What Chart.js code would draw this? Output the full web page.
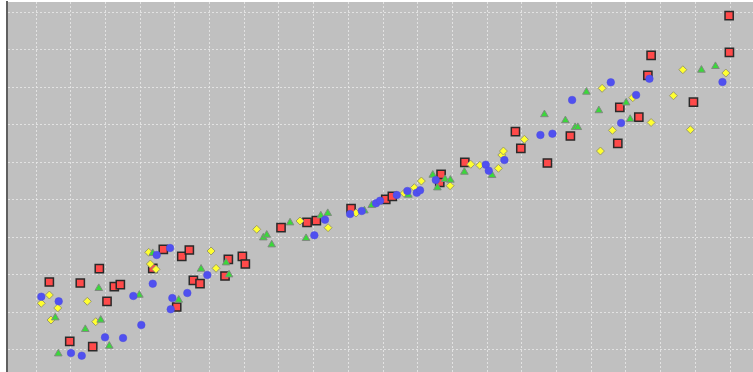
<!DOCTYPE html>
<html><head><meta charset="utf-8">
<script src="https://cdn.jsdelivr.net/npm/chart.js@4/dist/chart.umd.min.js"></script>
<style>html,body{margin:0;padding:0;background:#fff}#wrap{width:753px;height:372px}</style>
</head><body><div id="wrap"><canvas id="c"></canvas></div>
<script>
// Series values [x, y]
const blueX = [0.76,3.27,5.04,6.59,9.94,12.54,14.02,15.17,16.82,17.39,19.31,19.64,19.41,21.80,24.68,40.10,41.64,45.25,46.93,48.99,49.57,51.98,53.50,54.86,55.33,57.60,64.80,65.23,67.48,72.67,74.40,77.24,82.81,84.30,86.46,88.38,98.90];
const blueY = [14.08,12.85,-0.93,-1.65,3.25,3.07,14.27,6.53,17.55,25.20,27.07,13.73,10.72,15.07,19.87,30.45,34.61,36.13,36.93,38.99,39.68,41.20,42.27,41.81,42.45,45.20,49.28,47.68,50.53,57.20,57.55,66.53,71.25,60.40,67.87,72.21,71.33];

const greenX = [2.78,3.21,7.10,9.04,9.32,10.56,14.89,16.82,20.56,23.78,27.38,27.81,32.75,33.24,33.96,36.60,38.91,41.03,42.03,47.31,48.37,53.65,57.16,57.83,58.94,59.70,61.72,65.71,73.25,76.27,77.67,78.06,79.30,81.09,85.02,85.60,95.87,97.89];
const greenY = [8.48,-1.12,5.39,16.32,7.87,0.93,14.53,25.65,13.20,21.47,23.15,19.95,29.81,30.53,27.95,33.81,29.65,35.68,36.32,37.01,38.45,41.20,46.53,43.15,45.39,45.20,47.33,46.45,62.67,61.07,59.25,59.25,68.67,63.73,65.81,61.41,74.53,75.52];

const yellowX = [0.76,1.92,2.16,3.13,7.39,8.60,16.24,16.47,17.29,25.22,25.94,31.80,38.04,42.08,46.11,53.03,54.51,55.52,59.66,62.64,63.94,66.62,67.11,67.34,70.36,81.32,81.56,83.05,85.98,88.62,91.84,93.19,94.28,99.39];
const yellowY = [12.32,14.53,7.87,11.07,12.85,7.41,25.92,22.80,21.39,26.27,21.65,32.05,34.27,32.48,36.40,41.65,43.15,44.93,43.68,49.39,49.12,48.32,51.87,52.93,56.05,52.93,69.65,58.45,67.15,60.53,67.68,74.61,58.61,73.73];

const redX = [1.92,4.86,6.38,8.17,9.12,10.23,11.28,12.15,16.82,18.34,20.27,21.00,22.09,22.67,23.63,27.23,27.71,29.73,30.16,35.30,39.05,40.39,45.39,50.39,51.34,58.17,58.36,61.78,69.07,69.85,73.68,76.99,83.82,84.11,86.85,88.15,88.62,94.72,99.86,99.90];
const redY = [18.00,2.19,17.73,0.75,21.55,12.85,16.75,17.28,21.65,26.72,11.33,24.85,26.53,18.45,17.55,19.60,24.05,24.85,22.80,32.48,33.92,34.35,37.55,40.05,40.85,44.59,46.72,49.92,58.08,53.65,49.73,56.93,54.99,64.59,61.95,73.12,78.45,65.95,89.01,79.25];

// Axis ranges / gridline values
const xRange = [-4.18, 103.3];
const yRange = [-6.0, 92.67];
const xTicks = [0,5,10,15,20,25,30,35,40,45,50,55,60,65,70,75,80,85,90,95,100];
const yTicks = [0,10,20,30,40,50,60,70,80,90];

const pts = (xs, ys) => xs.map((x, i) => ({x, y: ys[i]}));

const bgPlugin = {
  id: 'bg',
  beforeDraw(chart) {
    const {ctx, chartArea: a} = chart;
    ctx.save();
    ctx.fillStyle = '#c0c0c0';
    ctx.fillRect(a.left, a.top, a.right - a.left, a.bottom - a.top);
    ctx.restore();
  }
};

const gridOpts = {color: 'rgba(232,232,232,0.85)', lineWidth: 1, drawTicks: false};

new Chart(document.getElementById('c'), {
  type: 'scatter',
  data: {
    datasets: [
      {label: 'A', data: pts(blueX, blueY), pointStyle: 'circle', pointRadius: 3.8, backgroundColor: '#5050f0', borderColor: '#4a4ade', borderWidth: 0.5},
      {label: 'B', data: pts(greenX, greenY), pointStyle: 'triangle', pointRadius: 4.4, backgroundColor: '#3ad83a', borderColor: '#808a80', borderWidth: 1},
      {label: 'C', data: pts(yellowX, yellowY), pointStyle: 'rectRot', pointRadius: 4, backgroundColor: '#ffff30', borderColor: '#9a9a70', borderWidth: 1},
      {label: 'D', data: pts(redX, redY), pointStyle: 'rect', pointRadius: 5.8, backgroundColor: '#ff4a4a', borderColor: '#2a2a2a', borderWidth: 1.5}
    ]
  },
  options: {
    responsive: true,
    maintainAspectRatio: false,
    animation: false,
    events: [],
    layout: {autoPadding: false, padding: {left: 7, top: 2, right: 0, bottom: 0}},
    plugins: {legend: {display: false}, tooltip: {enabled: false}},
    scales: {
      x: {
        type: 'linear', min: xRange[0], max: xRange[1],
        afterBuildTicks: s => { s.ticks = xTicks.map(v => ({value: v})); },
        ticks: {display: false},
        grid: gridOpts,
        border: {display: false, dash: [2, 2]}
      },
      y: {
        type: 'linear', min: yRange[0], max: yRange[1],
        afterBuildTicks: s => { s.ticks = yTicks.map(v => ({value: v})); },
        ticks: {display: false},
        grid: gridOpts,
        border: {display: true, color: '#606060', width: 2, dash: [2, 2]}
      }
    }
  },
  plugins: [bgPlugin]
});
</script>
</body></html>
